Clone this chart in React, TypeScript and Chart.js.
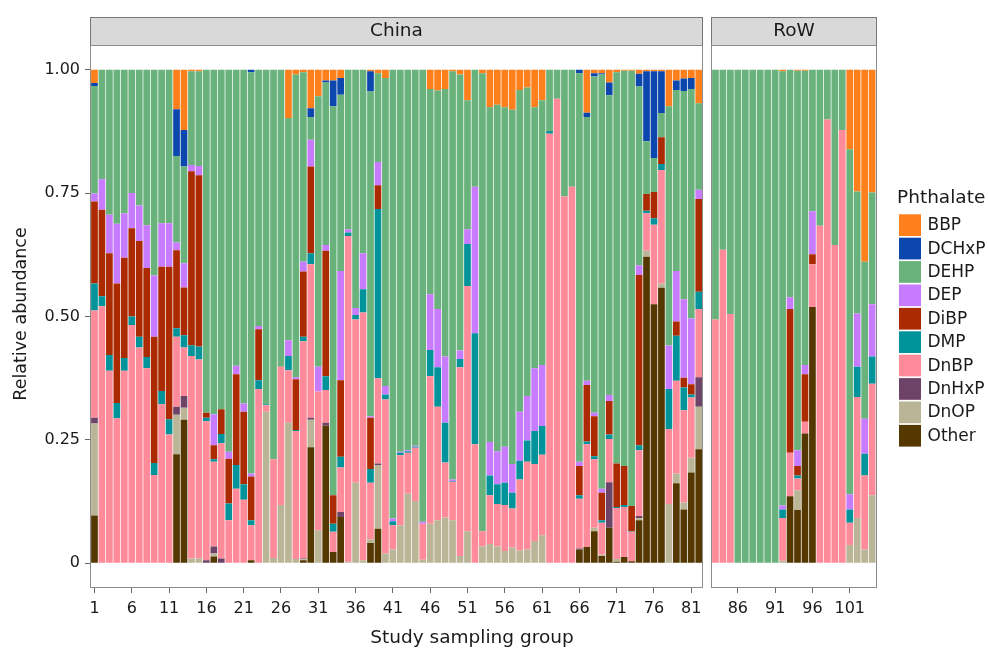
import React, { useEffect, useRef } from 'react';
import { Chart, registerables } from 'chart.js';

Chart.register(...registerables);

// ---------- data ----------
const chinaGroups: number[] = Array.from({ length: 82 }, (_, i) => i + 1);
const rowGroups: number[] = Array.from({ length: 22 }, (_, i) => i + 83);
const panelNames = ['China', 'RoW'];

const xTickGroups = [1, 6, 11, 16, 21, 26, 31, 36, 41, 46, 51, 56, 61, 66, 71, 76, 81, 86, 91, 96, 101];
const xTickLabels = xTickGroups.map(String);
const yTickValues = [0, 0.25, 0.5, 0.75, 1];
const yTickLabels = ['0', '0.25', '0.50', '0.75', '1.00'];

// series values by sampling group 1..104 (stacked bottom -> top)
const other = [
  0.097, 0, 0, 0, 0, 0, 0, 0, 0, 0,
  0, 0.221, 0.291, 0, 0, 0, 0.014, 0, 0, 0,
  0, 0.006, 0, 0, 0, 0, 0, 0, 0.006, 0.235,
  0, 0.279, 0.023, 0.094, 0, 0, 0, 0.041, 0.07, 0,
  0, 0, 0, 0, 0, 0, 0, 0, 0, 0,
  0, 0, 0, 0, 0, 0, 0, 0, 0, 0,
  0, 0, 0, 0, 0, 0.028, 0.033, 0.065, 0.015, 0.072,
  0.003, 0.013, 0.004, 0.087, 0.621, 0.525, 0.558, 0, 0.162, 0.109,
  0.184, 0.231, 0, 0, 0, 0, 0, 0, 0, 0,
  0, 0, 0.136, 0.108, 0.263, 0.519, 0, 0, 0, 0,
  0, 0, 0, 0,
];
const dnop = [
  0.186, 0, 0, 0, 0, 0, 0, 0, 0, 0,
  0, 0.08, 0.024, 0.01, 0.01, 0, 0.006, 0, 0, 0,
  0, 0, 0, 0.307, 0.011, 0.118, 0.285, 0.009, 0.002, 0.056,
  0.067, 0, 0, 0, 0.003, 0.163, 0.006, 0.008, 0.129, 0.02,
  0.028, 0.077, 0.141, 0.126, 0.007, 0.08, 0.087, 0.093, 0.087, 0.015,
  0.065, 0, 0.034, 0.039, 0.034, 0.025, 0.032, 0.026, 0.028, 0.045,
  0.057, 0, 0, 0, 0, 0, 0, 0.007, 0.003, 0,
  0.006, 0, 0, 0.005, 0.012, 0, 0.009, 0.12, 0.02, 0.014,
  0.03, 0.086, 0, 0, 0, 0, 0, 0, 0, 0,
  0, 0.005, 0, 0.04, 0, 0, 0, 0, 0, 0,
  0.037, 0.092, 0.028, 0.138,
];
const dnhxp = [
  0.012, 0, 0, 0, 0, 0, 0, 0, 0, 0,
  0, 0.016, 0.024, 0, 0, 0.006, 0.014, 0.01, 0, 0,
  0, 0, 0, 0, 0, 0, 0, 0, 0.002, 0.004,
  0, 0.006, 0, 0.01, 0, 0, 0, 0, 0.003, 0,
  0, 0, 0, 0, 0, 0, 0, 0, 0, 0,
  0, 0, 0, 0, 0, 0, 0, 0, 0, 0,
  0, 0, 0, 0, 0, 0.002, 0, 0, 0, 0.092,
  0, 0, 0, 0.004, 0, 0, 0, 0, 0, 0,
  0, 0.06, 0, 0, 0, 0, 0, 0, 0, 0,
  0, 0, 0, 0, 0, 0, 0, 0, 0, 0,
  0, 0, 0, 0,
];
const dnbp = [
  0.217, 0.521, 0.39, 0.294, 0.39, 0.483, 0.437, 0.395, 0.179, 0.322,
  0.261, 0.142, 0.098, 0.41, 0.403, 0.282, 0.172, 0.233, 0.087, 0.151,
  0.129, 0.071, 0.353, 0.013, 0.2, 0.28, 0.106, 0.259, 0.44, 0.311,
  0.281, 0.066, 0.041, 0.09, 0.66, 0.331, 0.502, 0.114, 0.173, 0.312,
  0.049, 0.142, 0.083, 0.108, 0.073, 0.299, 0.23, 0.111, 0.078, 0.382,
  0.497, 0.241, 0.031, 0.099, 0.086, 0.093, 0.079, 0.144, 0.178, 0.156,
  0.163, 0.87, 0.941, 0.743, 0.763, 0.101, 0.208, 0.139, 0.064, 0.088,
  0.103, 0.101, 0.06, 0.133, 0.076, 0.161, 0.23, 0.152, 0.188, 0.187,
  0.122, 0.138, 0.494, 0.635, 0.505, 0, 0, 0, 0, 0,
  0, 0.087, 0.088, 0.024, 0.024, 0.087, 0.684, 0.899, 0.645, 0.878,
  0.045, 0.245, 0.15, 0.226,
];
const dmp = [
  0.055, 0.02, 0.032, 0.031, 0.026, 0.017, 0.022, 0.023, 0.024, 0.027,
  0.031, 0.017, 0.025, 0.022, 0.026, 0.007, 0.005, 0.019, 0.034, 0.048,
  0.031, 0.01, 0.018, 0.002, 0, 0, 0.029, 0.002, 0.009, 0.022,
  0, 0.028, 0.016, 0.022, 0.007, 0.009, 0.047, 0.028, 0.343, 0.01,
  0.008, 0.005, 0.003, 0.002, 0, 0.053, 0.08, 0.081, 0.002, 0.017,
  0.085, 0.225, 0, 0.04, 0.04, 0.045, 0.032, 0.038, 0.043, 0.067,
  0.058, 0.006, 0, 0, 0, 0.007, 0.006, 0.006, 0.005, 0.009,
  0.002, 0.004, 0.001, 0.01, 0.005, 0.013, 0.012, 0.081, 0.091, 0.046,
  0.006, 0.035, 0, 0, 0, 0, 0, 0, 0, 0,
  0, 0.017, 0, 0.006, 0, 0, 0, 0, 0, 0,
  0.027, 0.061, 0.044, 0.055,
];
const dibp = [
  0.166, 0.175, 0.206, 0.242, 0.203, 0.179, 0.194, 0.18, 0.256, 0.252,
  0.309, 0.158, 0.097, 0.352, 0.347, 0.01, 0.028, 0.05, 0.091, 0.184,
  0.147, 0.089, 0.103, 0, 0, 0, 0, 0.103, 0.132, 0.176,
  0, 0.254, 0.058, 0.155, 0, 0, 0, 0.104, 0.048, 0,
  0, 0, 0, 0, 0, 0, 0, 0, 0, 0,
  0, 0, 0, 0, 0, 0, 0, 0, 0, 0,
  0, 0, 0, 0, 0, 0.059, 0.114, 0.081, 0.056, 0.068,
  0.088, 0.079, 0.051, 0.345, 0.034, 0.053, 0.054, 0, 0.029, 0.02,
  0.021, 0.188, 0, 0, 0, 0, 0, 0, 0, 0,
  0, 0, 0.291, 0.019, 0.096, 0.02, 0, 0, 0, 0,
  0, 0, 0, 0,
];
const dep = [
  0.016, 0.062, 0.078, 0.121, 0.09, 0.071, 0.072, 0.087, 0.124, 0.088,
  0.088, 0.016, 0.049, 0.013, 0.019, 0, 0.063, 0, 0.014, 0.017,
  0.017, 0.006, 0.007, 0, 0, 0, 0.032, 0.004, 0.02, 0.054,
  0.05, 0.012, 0, 0.221, 0.007, 0.014, 0.073, 0.003, 0.047, 0.017,
  0.006, 0.002, 0.002, 0.002, 0.004, 0.113, 0.118, 0.134, 0.003, 0.017,
  0.03, 0.297, 0, 0.068, 0.067, 0.073, 0.058, 0.099, 0.09, 0.127,
  0.124, 0, 0, 0, 0, 0.009, 0.009, 0.007, 0.008, 0.012,
  0, 0, 0, 0.02, 0, 0, 0, 0.088, 0.102, 0.159,
  0.133, 0.019, 0, 0, 0, 0, 0, 0, 0, 0,
  0, 0.008, 0.024, 0.032, 0.019, 0.087, 0, 0, 0, 0,
  0.031, 0.108, 0.071, 0.106,
];
const dehp = [
  0.218, 0.222, 0.294, 0.312, 0.291, 0.25, 0.275, 0.315, 0.417, 0.311,
  0.311, 0.175, 0.196, 0.19, 0.192, 0.695, 0.698, 0.688, 0.774, 0.6,
  0.676, 0.813, 0.519, 0.678, 0.789, 0.602, 0.45, 0.613, 0.384, 0.046,
  0.548, 0.329, 0.788, 0.357, 0.323, 0.483, 0.372, 0.658, 0.18, 0.624,
  0.909, 0.774, 0.771, 0.762, 0.916, 0.416, 0.443, 0.542, 0.827, 0.559,
  0.261, 0.237, 0.928, 0.678, 0.702, 0.688, 0.718, 0.652, 0.625, 0.529,
  0.536, 0.124, 0.059, 0.257, 0.237, 0.787, 0.534, 0.681, 0.839, 0.607,
  0.793, 0.801, 0.882, 0.362, 0.107, 0.069, 0.049, 0.485, 0.367, 0.422,
  0.465, 0.175, 0.506, 0.365, 0.495, 1, 1, 1, 1, 1,
  1, 0.88, 0.461, 0.769, 0.596, 0.287, 0.316, 0.101, 0.355, 0.122,
  0.699, 0.247, 0.318, 0.226,
];
const dchxp = [
  0.006, 0, 0, 0, 0, 0, 0, 0, 0, 0,
  0, 0.095, 0.074, 0, 0, 0, 0, 0, 0, 0,
  0, 0.005, 0, 0, 0, 0, 0, 0, 0, 0.018,
  0, 0.004, 0.052, 0.034, 0, 0, 0, 0.041, 0, 0,
  0, 0, 0, 0, 0, 0, 0, 0, 0, 0,
  0, 0, 0, 0, 0, 0, 0, 0, 0, 0,
  0, 0, 0, 0, 0, 0.007, 0.009, 0.007, 0.003, 0.026,
  0, 0, 0, 0.026, 0.142, 0.176, 0.085, 0, 0.019, 0.025,
  0.022, 0, 0, 0, 0, 0, 0, 0, 0, 0,
  0, 0, 0, 0, 0, 0, 0, 0, 0, 0,
  0, 0, 0, 0,
];
const bbp = [
  0.027, 0, 0, 0, 0, 0, 0, 0, 0, 0,
  0, 0.08, 0.122, 0.003, 0.003, 0, 0, 0, 0, 0,
  0, 0, 0, 0, 0, 0, 0.098, 0.01, 0.005, 0.078,
  0.054, 0.022, 0.022, 0.017, 0, 0, 0, 0.003, 0.007, 0.017,
  0, 0, 0, 0, 0, 0.039, 0.042, 0.039, 0.003, 0.01,
  0.062, 0, 0.007, 0.076, 0.071, 0.076, 0.081, 0.041, 0.036, 0.076,
  0.062, 0, 0, 0, 0, 0, 0.087, 0.007, 0.007, 0.026,
  0.005, 0.002, 0.002, 0.008, 0.003, 0.003, 0.003, 0.074, 0.022, 0.018,
  0.017, 0.068, 0, 0, 0, 0, 0, 0, 0, 0,
  0, 0.003, 0, 0.002, 0.002, 0, 0, 0, 0, 0,
  0.161, 0.247, 0.389, 0.249,
];

// stacking order bottom -> top
const seriesNames = ['Other', 'DnOP', 'DnHxP', 'DnBP', 'DMP', 'DiBP', 'DEP', 'DEHP', 'DCHxP', 'BBP'];
const seriesValues = [other, dnop, dnhxp, dnbp, dmp, dibp, dep, dehp, dchxp, bbp];
const seriesColors = ['#553800', '#B9B596', '#6D4467', '#FF8A99', '#00939A', '#AB2A00', '#C77CFF', '#69B27B', '#0B47AC', '#FD801D'];

// ---------- layout ----------
const W = 988;
const H = 648;
const ROW_SHIFT = 1.24; // gap between facets, in x units
const allGroups = [...chinaGroups, ...rowGroups];
const posOf = (g: number) => (g > chinaGroups[chinaGroups.length - 1] ? g + ROW_SHIFT : g);
const X_MIN = posOf(chinaGroups[0]) - 0.6;
const X_MAX = posOf(rowGroups[rowGroups.length - 1]) + 0.6;
const FONT = 'DejaVu Sans';
const TEXT = '#1a1a1a';

const facetPlugin = {
  id: 'facetDecor',
  afterDraw(chart: any) {
    const ctx = chart.ctx as CanvasRenderingContext2D;
    const xs = chart.scales.x;
    const area = chart.chartArea;
    const panels = [
      { name: panelNames[0], a: posOf(chinaGroups[0]) - 0.6, b: posOf(chinaGroups[chinaGroups.length - 1]) + 0.6 },
      { name: panelNames[1], a: posOf(rowGroups[0]) - 0.6, b: posOf(rowGroups[rowGroups.length - 1]) + 0.6 },
    ];
    ctx.save();
    panels.forEach((p) => {
      const x0 = Math.round(xs.getPixelForValue(p.a));
      const x1 = Math.round(xs.getPixelForValue(p.b));
      // strip
      ctx.fillStyle = '#D9D9D9';
      ctx.fillRect(x0, 17, x1 - x0, area.top - 17);
      ctx.strokeStyle = '#777777';
      ctx.lineWidth = 1;
      ctx.strokeRect(x0 + 0.5, 17.5, x1 - x0 - 1, area.top - 17);
      ctx.fillStyle = TEXT;
      ctx.font = `18.5px "${FONT}"`;
      ctx.textAlign = 'center';
      ctx.textBaseline = 'middle';
      ctx.fillText(p.name, (x0 + x1) / 2, 31.5);
      // panel border
      ctx.strokeStyle = '#8C8C8C';
      ctx.strokeRect(x0 + 0.5, Math.round(area.top) + 0.5, x1 - x0 - 1, Math.round(area.bottom - area.top) - 1);
    });

    // axis titles
    ctx.fillStyle = TEXT;
    ctx.font = `18.5px "${FONT}"`;
    ctx.textAlign = 'center';
    ctx.textBaseline = 'alphabetic';
    ctx.fillText('Study sampling group', 472, 643);
    ctx.save();
    ctx.translate(26, 314);
    ctx.rotate(-Math.PI / 2);
    ctx.font = `17.5px "${FONT}"`;
    ctx.fillText('Relative abundance', 0, 0);
    ctx.restore();

    // legend
    ctx.textAlign = 'left';
    ctx.font = `18.5px "${FONT}"`;
    ctx.fillText('Phthalate', 897, 203);
    ctx.font = `17px "${FONT}"`;
    ctx.textBaseline = 'middle';
    const order = seriesNames.map((_, i) => seriesNames.length - 1 - i);
    order.forEach((si, k) => {
      const top = 214.3 + k * 23.4;
      ctx.fillStyle = seriesColors[si];
      ctx.fillRect(899, top, 22, 21.7);
      ctx.fillStyle = TEXT;
      ctx.fillText(seriesNames[si], 927.5, top + 11.5);
    });
    ctx.restore();
  },
};

export default function App() {
  const ref = useRef<HTMLCanvasElement | null>(null);

  useEffect(() => {
    if (!ref.current) return;
    const datasets = seriesNames.map((name, si) => ({
      label: name,
      data: seriesValues[si].map((v, i) => ({ x: posOf(allGroups[i]), y: v })),
      backgroundColor: seriesColors[si],
      borderWidth: 0,
      barPercentage: 0.9,
      categoryPercentage: 1,
    }));
    const chart = new Chart(ref.current, {
      type: 'bar',
      data: { datasets },
      plugins: [facetPlugin],
      options: {
        animation: false,
        responsive: false,
        devicePixelRatio: 1,
        layout: { padding: { top: 45, right: W - 876.6, bottom: 0, left: 0 } },
        plugins: { legend: { display: false }, tooltip: { enabled: false } },
        scales: {
          x: {
            type: 'linear',
            min: X_MIN,
            max: X_MAX,
            bounds: 'data',
            stacked: true,
            offset: false,
            afterBuildTicks: (s: any) => {
              s.ticks = xTickGroups.map((g) => ({ value: posOf(g) }));
            },
            afterFit: (s: any) => {
              s.height = 60;
            },
            ticks: {
              autoSkip: false,
              maxRotation: 0,
              minRotation: 0,
              padding: 6,
              color: TEXT,
              font: { family: FONT, size: 16 },
              callback: (_v: any, i: number) => xTickLabels[i],
            },
            grid: { display: true, offset: false, drawOnChartArea: false, drawTicks: true, tickLength: 5, color: '#666666' },
            border: { display: false },
          },
          y: {
            type: 'linear',
            min: -0.05,
            max: 1.05,
            bounds: 'data',
            stacked: true,
            afterBuildTicks: (s: any) => {
              s.ticks = yTickValues.map((v) => ({ value: v }));
            },
            afterFit: (s: any) => {
              s.width = 90;
            },
            ticks: {
              padding: 5,
              color: TEXT,
              font: { family: FONT, size: 16 },
              callback: (_v: any, i: number) => yTickLabels[i],
            },
            grid: { display: true, offset: false, drawOnChartArea: false, drawTicks: true, tickLength: 5, color: '#666666' },
            border: { display: false },
          },
        },
      } as any,
    });
    return () => chart.destroy();
  }, []);

  return (
    <div style={{ position: 'absolute', left: 0, top: 0, width: W, height: H, background: '#ffffff' }}>
      <canvas ref={ref} width={W} height={H} style={{ display: 'block', width: W, height: H }} />
    </div>
  );
}
